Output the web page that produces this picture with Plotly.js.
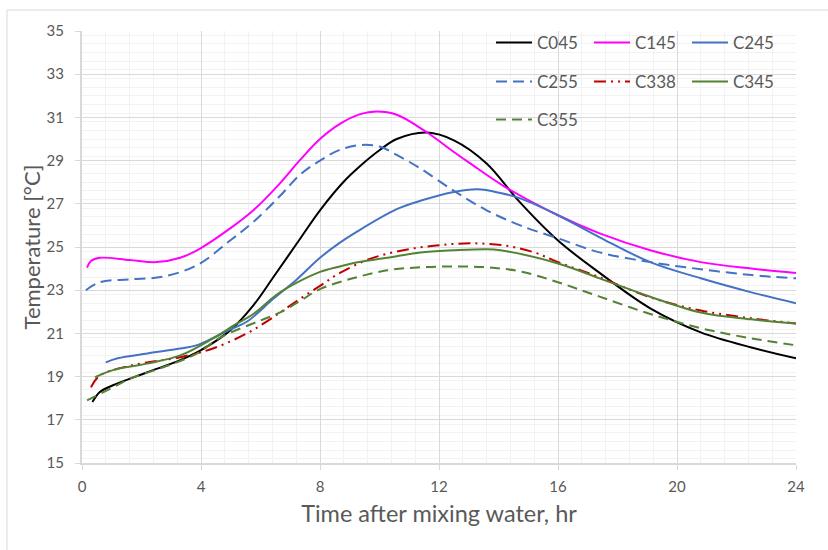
<!DOCTYPE html>
<html>
<head>
<meta charset="utf-8">
<script src="https://cdn.plot.ly/plotly-3.0.1.min.js"></script>
<style>
  html, body { margin: 0; padding: 0; background: #ffffff; }
  #chart { width: 828px; height: 550px; }
</style>
</head>
<body>
<div id="chart"></div>
<script>
// ---- Data ----
const seriesNames = ["C045", "C145", "C245", "C255", "C338", "C345", "C355"];

const tC045 = [0.35, 0.6, 1.04, 2.2, 3.3, 3.97, 4.98, 5.76, 6.43, 7.22, 8.0, 8.78, 9.35, 10.02, 10.58, 11.6, 12.5, 13.6, 14.7, 16, 17.4, 19.1, 20.8, 22.5, 24];
const yC045 = [17.82, 18.29, 18.6, 19.2, 19.76, 20.2, 21.14, 22.3, 23.6, 25.16, 26.7, 28.0, 28.75, 29.5, 30.0, 30.3, 29.94, 28.87, 27.1, 25.3, 23.8, 22.16, 21.05, 20.35, 19.85];

const tC145 = [0.17, 0.3, 0.6, 1.6, 2.5, 3.3, 3.97, 4.98, 5.76, 6.66, 7.33, 8.0, 8.67, 9.35, 9.9, 10.58, 11.6, 12.5, 13.05, 14.2, 16, 17.4, 19.1, 20.8, 22.5, 24];
const yC145 = [24.05, 24.35, 24.5, 24.4, 24.3, 24.5, 24.93, 25.86, 26.7, 27.96, 29.03, 30.0, 30.7, 31.15, 31.27, 31.12, 30.3, 29.4, 28.87, 27.8, 26.47, 25.63, 24.85, 24.3, 24.0, 23.8];

const tC245 = [0.8, 1.2, 2.2, 3.3, 3.9, 4.98, 5.55, 6.43, 7.22, 8.0, 8.67, 9.23, 10.58, 11.4, 12.5, 13.3, 14.06, 14.73, 16, 17.4, 19.1, 20.8, 22.5, 24];
const yC245 = [19.66, 19.85, 20.07, 20.3, 20.47, 21.18, 21.55, 22.6, 23.5, 24.5, 25.2, 25.7, 26.75, 27.15, 27.55, 27.67, 27.5, 27.25, 26.47, 25.45, 24.3, 23.55, 22.9, 22.4];

const tC255 = [0.13, 0.6, 1.6, 2.7, 3.87, 4.98, 5.76, 6.66, 7.33, 8.0, 8.67, 9.35, 10.0, 10.58, 11.37, 12.5, 13.6, 14.73, 16, 17.4, 19.1, 20.8, 22.5, 24];
const yC255 = [23.0, 23.37, 23.5, 23.62, 24.16, 25.3, 26.16, 27.37, 28.35, 29.0, 29.5, 29.72, 29.65, 29.26, 28.64, 27.6, 26.7, 26.0, 25.4, 24.75, 24.3, 23.97, 23.7, 23.55];

const tC338 = [0.3, 0.6, 1.6, 3.3, 4.4, 5.54, 6.43, 7.22, 8.0, 8.67, 9.7, 10.8, 11.9, 13.05, 14.2, 15.2, 16, 17.4, 19.1, 20.8, 22.5, 24];
const yC338 = [18.5, 19.05, 19.5, 19.9, 20.3, 21.0, 21.75, 22.5, 23.2, 23.8, 24.46, 24.85, 25.07, 25.17, 25.07, 24.75, 24.3, 23.6, 22.67, 22.06, 21.7, 21.46];

const tC345 = [0.44, 1.04, 2.18, 3.3, 4.4, 5.2, 5.76, 6.55, 7.22, 8.0, 8.67, 9.1, 10.26, 11.37, 12.5, 13.6, 14.06, 16, 17.4, 19.1, 20.8, 22.5, 24];
const yC345 = [18.97, 19.3, 19.6, 19.98, 20.77, 21.45, 21.9, 22.8, 23.35, 23.85, 24.1, 24.25, 24.5, 24.75, 24.85, 24.9, 24.85, 24.24, 23.55, 22.7, 21.97, 21.65, 21.46];

const tC355 = [0.17, 1.04, 1.6, 2.73, 3.87, 4.64, 6.0, 6.66, 7.33, 8.0, 9.1, 10.26, 11.37, 12.5, 13.6, 14.73, 16, 17.4, 19.1, 20.8, 22.5, 24];
const yC355 = [17.9, 18.5, 18.9, 19.43, 20.07, 20.8, 21.6, 21.97, 22.5, 23.05, 23.55, 23.92, 24.06, 24.1, 24.06, 23.87, 23.37, 22.7, 21.9, 21.24, 20.77, 20.45];

const xTitle = "Time after mixing water, hr";
const yTitle = "Temperature [°C]";

// ---- Styles ----
const styles = [
  {color: "#000000", dash: "solid", legend: "legend"},
  {color: "#FF00FF", dash: "solid", legend: "legend"},
  {color: "#4472C4", dash: "solid", legend: "legend"},
  {color: "#4472C4", dash: "11px,6px", legend: "legend2"},
  {color: "#C00000", dash: "12px,5px,2px,5px,2px,5px", legend: "legend2"},
  {color: "#548235", dash: "solid", legend: "legend2"},
  {color: "#548235", dash: "10px,6px", legend: "legend3"}
];
const xs = [tC045, tC145, tC245, tC255, tC338, tC345, tC355];
const ys = [yC045, yC145, yC245, yC255, yC338, yC345, yC355];

const traces = seriesNames.map((n, i) => ({
  type: "scatter",
  mode: "lines",
  name: n,
  x: xs[i],
  y: ys[i],
  legend: styles[i].legend,
  line: {color: styles[i].color, width: 2, dash: styles[i].dash, shape: "spline", smoothing: 1}
}));

const W = 828, H = 550;
const M = {l: 82, r: 32, t: 31, b: 87};
const pw = W - M.l - M.r, ph = H - M.t - M.b;
const px2x = p => (p - M.l) / pw;
const py2y = p => (H - M.b - p) / ph;

const textColor = "#595959";
const fontFam = "Lato, 'Open Sans', sans-serif";

function legendAt(rowCenterPx) {
  return {
    orientation: "h",
    x: px2x(491), xanchor: "left",
    y: py2y(rowCenterPx), yanchor: "middle",
    bgcolor: "rgba(0,0,0,0)",
    borderwidth: 0,
    itemwidth: 36,
    entrywidth: 47, entrywidthmode: "pixels",
    font: {family: fontFam, size: 17, color: textColor},
    traceorder: "normal"
  };
}

const layout = {
  width: W, height: H,
  margin: M,
  paper_bgcolor: "#ffffff",
  plot_bgcolor: "#ffffff",
  showlegend: true,
  legend: legendAt(43),
  legend2: legendAt(82),
  legend3: legendAt(120),
  xaxis: {
    range: [0, 24], tick0: 0, dtick: 4,
    showgrid: true, gridcolor: "#D9D9D9", gridwidth: 1,
    minor: {dtick: 0.8, showgrid: true, gridcolor: "#F2F2F2", gridwidth: 1, ticks: ""},
    showline: true, linecolor: "#D9D9D9", linewidth: 2,
    ticks: "outside", ticklen: 5, tickcolor: "#D9D9D9", tickwidth: 1,
    ticklabelstandoff: 4,
    zeroline: false,
    tickfont: {family: fontFam, size: 15, color: textColor},
    title: {text: xTitle, font: {family: fontFam, size: 23.5, color: textColor}, standoff: 12}
  },
  yaxis: {
    range: [15, 35], tick0: 15, dtick: 2,
    showgrid: true, gridcolor: "#D9D9D9", gridwidth: 1,
    minor: {dtick: 0.4, showgrid: true, gridcolor: "#F2F2F2", gridwidth: 1, ticks: ""},
    showline: true, linecolor: "#D9D9D9", linewidth: 2,
    ticks: "outside", ticklen: 5, tickcolor: "#D9D9D9", tickwidth: 1,
    ticklabelstandoff: 8,
    zeroline: false,
    tickfont: {family: fontFam, size: 15, color: textColor},
    title: {text: yTitle, font: {family: fontFam, size: 22, color: textColor}, standoff: 0}
  },
  shapes: [
    {type: "line", xref: "paper", yref: "paper", x0: px2x(7), x1: px2x(7), y0: py2y(10), y1: py2y(560),
     line: {color: "#D9D9D9", width: 1}},
    {type: "line", xref: "paper", yref: "paper", x0: px2x(7), x1: px2x(840), y0: py2y(10), y1: py2y(10),
     line: {color: "#D9D9D9", width: 1}}
  ]
};

Plotly.newPlot("chart", traces, layout, {staticPlot: true, displayModeBar: false});
</script>
</body>
</html>
